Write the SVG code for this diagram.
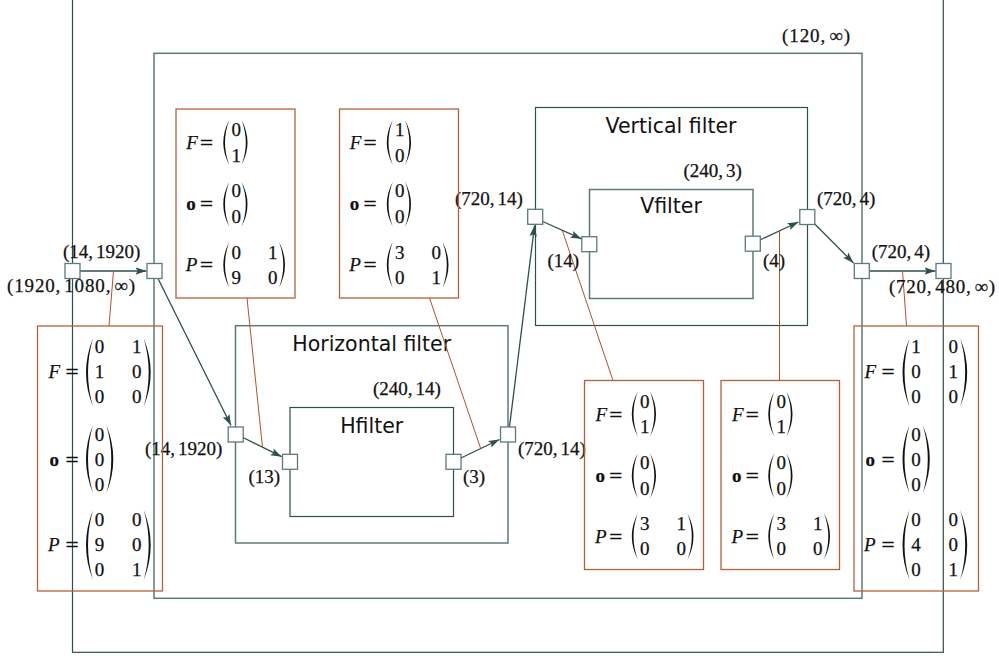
<svg xmlns="http://www.w3.org/2000/svg" width="999" height="656" viewBox="0 0 999 656">
<style>
.bx{fill:none;stroke:#2f4f4f;stroke-width:1.2}
.bl{fill:none;stroke:#5d7a7a;stroke-width:1.5}
.ob{fill:none;stroke:#b5603a;stroke-width:1.3}
.port{fill:#fff;stroke:#5d7a7a;stroke-width:1.3}
.cn{fill:none;stroke:#2f4f4f;stroke-width:1.3}
.an{fill:none;stroke:#b0532a;stroke-width:1}
.m{font-family:"Liberation Serif","DejaVu Serif",serif;font-size:19px;fill:#111;stroke:#111;stroke-width:0.25}
.eq{font-family:"DejaVu Serif","Liberation Serif",serif;font-size:18px;fill:#111}
.i{font-style:italic}
.b{font-weight:bold}
.d{text-anchor:middle}
.lb{font-family:"Liberation Serif","DejaVu Serif",serif;font-size:19px;fill:#111;stroke:#111;stroke-width:0.25}
.tt{font-family:"DejaVu Sans","Liberation Sans",sans-serif;font-size:20.5px;fill:#111;text-anchor:middle}
.p{fill:#111}
</style>
<defs>
<marker id="ah" markerWidth="12" markerHeight="9" refX="11" refY="4.5" orient="auto" markerUnits="userSpaceOnUse">
<path d="M0,0.8 L11,4.5 L0,8.2 L2.2,4.5 Z" fill="#2f4f4f"/>
</marker>
</defs>

<g id="outer">
<rect class="bx" x="72.5" y="-20" width="870.8" height="672.3"/>
</g>
<g id="graph">
<rect class="bl" x="154" y="53.3" width="708" height="545"/>
<text class="lb" x="782" y="41.6" textLength="68" lengthAdjust="spacing">(120,<tspan dx="3">∞)</tspan></text>
</g>
<g id="hfilter-block">
<rect class="bl" x="235.5" y="325.7" width="272.5" height="217.3"/>
<text class="tt" x="371.7" y="350.7">Horizontal filter</text>
<text class="lb" x="373" y="395">(240,<tspan dx="3">14)</tspan></text>
</g>
<g id="hfilter">
<rect class="bx" x="290" y="407.5" width="163.5" height="109"/>
<text class="tt" x="371.7" y="432.7">Hfilter</text>
</g>
<g id="vfilter-block">
<rect class="bx" x="535.5" y="107.5" width="272" height="218"/>
<text class="tt" x="671" y="133">Vertical filter</text>
<text class="lb" x="683.5" y="176.6">(240,<tspan dx="3">3)</tspan></text>
</g>
<g id="vfilter">
<rect class="bl" x="589.5" y="189.5" width="163.5" height="109"/>
<text class="tt" x="671" y="213.3">Vfilter</text>
</g>

<g id="connectors">
<line class="cn" x1="80" y1="271" x2="146.5" y2="271" marker-end="url(#ah)"/>
<line class="cn" x1="158" y1="278.5" x2="231" y2="425.5" marker-end="url(#ah)"/>
<line class="cn" x1="243" y1="437.5" x2="281.7" y2="456.7" marker-end="url(#ah)"/>
<line class="cn" x1="461" y1="458" x2="499.5" y2="439.5" marker-end="url(#ah)"/>
<line class="cn" x1="509.5" y1="427" x2="534.5" y2="225.5" marker-end="url(#ah)"/>
<line class="cn" x1="542.7" y1="221.5" x2="581.5" y2="238.8" marker-end="url(#ah)"/>
<line class="cn" x1="760" y1="240" x2="798.5" y2="222" marker-end="url(#ah)"/>
<line class="cn" x1="815" y1="224.3" x2="853.5" y2="263" marker-end="url(#ah)"/>
<line class="cn" x1="869" y1="271" x2="935.5" y2="271" marker-end="url(#ah)"/>
<line class="an" x1="113.5" y1="271" x2="109" y2="326"/>
<line class="an" x1="247" y1="298" x2="262.5" y2="447.5"/>
<line class="an" x1="429.5" y1="298" x2="480.5" y2="448"/>
<line class="an" x1="562.5" y1="231" x2="613" y2="380.5"/>
<line class="an" x1="779.5" y1="231" x2="779.5" y2="380.5"/>
<line class="an" x1="902.5" y1="271" x2="906.5" y2="326"/>
</g>

<g id="ports">
<rect class="port" x="65" y="263.5" width="15" height="15"/>
<rect class="port" x="147" y="263.5" width="15" height="15"/>
<rect class="port" x="228.2" y="427" width="15" height="15"/>
<rect class="port" x="282.5" y="454.3" width="15" height="15"/>
<rect class="port" x="446" y="454.3" width="15" height="15"/>
<rect class="port" x="500.5" y="427" width="15" height="15"/>
<rect class="port" x="527.7" y="209.3" width="15" height="15"/>
<rect class="port" x="581.8" y="236.7" width="15" height="15"/>
<rect class="port" x="745.3" y="236.2" width="15" height="15"/>
<rect class="port" x="799.8" y="209.5" width="15" height="15"/>
<rect class="port" x="854.3" y="263.5" width="15" height="15"/>
<rect class="port" x="936" y="263.5" width="15" height="15"/>
</g>

<g id="port-labels">
<text class="lb" x="63" y="258.3">(14,<tspan dx="3">1920)</tspan></text>
<text class="lb" x="7" y="291.6" textLength="128" lengthAdjust="spacing">(1920,<tspan dx="3">1080,</tspan><tspan dx="3">∞)</tspan></text>
<text class="lb" x="145" y="455">(14,<tspan dx="3">1920)</tspan></text>
<text class="lb" x="248.5" y="483.3">(13)</text>
<text class="lb" x="463" y="483.3">(3)</text>
<text class="lb" x="518" y="455">(720,<tspan dx="3">14)</tspan></text>
<text class="lb" x="455" y="205">(720,<tspan dx="3">14)</tspan></text>
<text class="lb" x="547.5" y="266.6">(14)</text>
<text class="lb" x="763" y="266.6">(4)</text>
<text class="lb" x="817" y="204.6">(720,<tspan dx="3">4)</tspan></text>
<text class="lb" x="871.7" y="258.3">(720,<tspan dx="3">4)</tspan></text>
<text class="lb" x="889" y="293.3" textLength="106" lengthAdjust="spacing">(720,<tspan dx="3">480,</tspan><tspan dx="3">∞)</tspan></text>
</g>

<!-- 2-row matrix boxes -->
<g id="ann-a" transform="translate(176,109)">
<rect class="ob" x="0" y="0" width="119" height="189"/>
<text class="m i" x="10.2" y="40">F</text><text class="eq" x="23" y="40">=</text>
<path class="p" d="M53.3,11 Q41.3,33.5 53.3,56 Q44.7,33.5 53.3,11 Z"/>
<text class="m d" x="60.2" y="27">0</text><text class="m d" x="60.2" y="52.7">1</text>
<path class="p" d="M65.5,11 Q77.5,33.5 65.5,56 Q74.1,33.5 65.5,11 Z"/>
<text class="m b" x="10.2" y="101">o</text><text class="eq" x="23" y="101">=</text>
<path class="p" d="M53.3,72.7 Q41.3,95.2 53.3,117.7 Q44.7,95.2 53.3,72.7 Z"/>
<text class="m d" x="60.2" y="88">0</text><text class="m d" x="60.2" y="114">0</text>
<path class="p" d="M65.5,72.7 Q77.5,95.2 65.5,117.7 Q74.1,95.2 65.5,72.7 Z"/>
<text class="m i" x="9.7" y="162">P</text><text class="eq" x="23" y="162">=</text>
<path class="p" d="M53.3,132.7 Q41.3,155.9 53.3,179 Q44.7,155.9 53.3,132.7 Z"/>
<text class="m d" x="60.2" y="149.5">0</text><text class="m d" x="96.8" y="149.5">1</text>
<text class="m d" x="60.2" y="174.5">9</text><text class="m d" x="96.8" y="174.5">0</text>
<path class="p" d="M103,132.7 Q115,155.9 103,179 Q111.6,155.9 103,132.7 Z"/>
</g>

<g id="ann-b" transform="translate(339.5,109)">
<rect class="ob" x="0" y="0" width="119" height="189"/>
<text class="m i" x="10.2" y="40">F</text><text class="eq" x="23" y="40">=</text>
<path class="p" d="M53.3,11 Q41.3,33.5 53.3,56 Q44.7,33.5 53.3,11 Z"/>
<text class="m d" x="60.2" y="27">1</text><text class="m d" x="60.2" y="52.7">0</text>
<path class="p" d="M65.5,11 Q77.5,33.5 65.5,56 Q74.1,33.5 65.5,11 Z"/>
<text class="m b" x="10.2" y="101">o</text><text class="eq" x="23" y="101">=</text>
<path class="p" d="M53.3,72.7 Q41.3,95.2 53.3,117.7 Q44.7,95.2 53.3,72.7 Z"/>
<text class="m d" x="60.2" y="88">0</text><text class="m d" x="60.2" y="114">0</text>
<path class="p" d="M65.5,72.7 Q77.5,95.2 65.5,117.7 Q74.1,95.2 65.5,72.7 Z"/>
<text class="m i" x="9.7" y="162">P</text><text class="eq" x="23" y="162">=</text>
<path class="p" d="M53.3,132.7 Q41.3,155.9 53.3,179 Q44.7,155.9 53.3,132.7 Z"/>
<text class="m d" x="60.2" y="149.5">3</text><text class="m d" x="96.8" y="149.5">0</text>
<text class="m d" x="60.2" y="174.5">0</text><text class="m d" x="96.8" y="174.5">1</text>
<path class="p" d="M103,132.7 Q115,155.9 103,179 Q111.6,155.9 103,132.7 Z"/>
</g>

<g id="ann-c" transform="translate(584.5,380.5)">
<rect class="ob" x="0" y="0" width="119" height="189"/>
<text class="m i" x="11" y="40">F</text><text class="eq" x="23.8" y="40">=</text>
<path class="p" d="M53.3,11 Q41.3,33.5 53.3,56 Q44.7,33.5 53.3,11 Z"/>
<text class="m d" x="60.2" y="27">0</text><text class="m d" x="60.2" y="52.7">1</text>
<path class="p" d="M65.5,11 Q77.5,33.5 65.5,56 Q74.1,33.5 65.5,11 Z"/>
<text class="m b" x="11" y="101">o</text><text class="eq" x="23.8" y="101">=</text>
<path class="p" d="M53.3,72.7 Q41.3,95.2 53.3,117.7 Q44.7,95.2 53.3,72.7 Z"/>
<text class="m d" x="60.2" y="88">0</text><text class="m d" x="60.2" y="114">0</text>
<path class="p" d="M65.5,72.7 Q77.5,95.2 65.5,117.7 Q74.1,95.2 65.5,72.7 Z"/>
<text class="m i" x="10.5" y="162">P</text><text class="eq" x="23.8" y="162">=</text>
<path class="p" d="M53.3,132.7 Q41.3,155.9 53.3,179 Q44.7,155.9 53.3,132.7 Z"/>
<text class="m d" x="60.2" y="149.5">3</text><text class="m d" x="96.8" y="149.5">1</text>
<text class="m d" x="60.2" y="174.5">0</text><text class="m d" x="96.8" y="174.5">0</text>
<path class="p" d="M103,132.7 Q115,155.9 103,179 Q111.6,155.9 103,132.7 Z"/>
</g>

<g id="ann-d" transform="translate(721,380.5)">
<rect class="ob" x="0" y="0" width="118.5" height="189"/>
<text class="m i" x="11" y="40">F</text><text class="eq" x="23.8" y="40">=</text>
<path class="p" d="M53.3,11 Q41.3,33.5 53.3,56 Q44.7,33.5 53.3,11 Z"/>
<text class="m d" x="60.2" y="27">0</text><text class="m d" x="60.2" y="52.7">1</text>
<path class="p" d="M65.5,11 Q77.5,33.5 65.5,56 Q74.1,33.5 65.5,11 Z"/>
<text class="m b" x="11" y="101">o</text><text class="eq" x="23.8" y="101">=</text>
<path class="p" d="M53.3,72.7 Q41.3,95.2 53.3,117.7 Q44.7,95.2 53.3,72.7 Z"/>
<text class="m d" x="60.2" y="88">0</text><text class="m d" x="60.2" y="114">0</text>
<path class="p" d="M65.5,72.7 Q77.5,95.2 65.5,117.7 Q74.1,95.2 65.5,72.7 Z"/>
<text class="m i" x="10.5" y="162">P</text><text class="eq" x="23.8" y="162">=</text>
<path class="p" d="M53.3,132.7 Q41.3,155.9 53.3,179 Q44.7,155.9 53.3,132.7 Z"/>
<text class="m d" x="60.2" y="149.5">3</text><text class="m d" x="96.8" y="149.5">1</text>
<text class="m d" x="60.2" y="174.5">0</text><text class="m d" x="96.8" y="174.5">0</text>
<path class="p" d="M103,132.7 Q115,155.9 103,179 Q111.6,155.9 103,132.7 Z"/>
</g>

<!-- 3-row matrix boxes -->
<g id="ann-left" transform="translate(37.5,326)">
<rect class="ob" x="0" y="0" width="125" height="265"/>
<text class="m i" x="11" y="52">F</text><text class="eq" x="27" y="52">=</text>
<path class="p" d="M55.5,12.3 Q41.5,46.5 55.5,80.7 Q45.5,46.5 55.5,12.3 Z"/>
<text class="m d" x="62" y="26.7">0</text><text class="m d" x="99.2" y="26.7">1</text>
<text class="m d" x="62" y="51.7">1</text><text class="m d" x="99.2" y="51.7">0</text>
<text class="m d" x="62" y="76.7">0</text><text class="m d" x="99.2" y="76.7">0</text>
<path class="p" d="M106.2,12.3 Q120.2,46.5 106.2,80.7 Q116.2,46.5 106.2,12.3 Z"/>
<text class="m b" x="12" y="140">o</text><text class="eq" x="27" y="140">=</text>
<path class="p" d="M55.5,99 Q41.5,133.2 55.5,167.3 Q45.5,133.2 55.5,99 Z"/>
<text class="m d" x="62" y="115">0</text><text class="m d" x="62" y="140">0</text><text class="m d" x="62" y="165">0</text>
<path class="p" d="M68.8,99 Q82.8,133.2 68.8,167.3 Q78.8,133.2 68.8,99 Z"/>
<text class="m i" x="10.5" y="225">P</text><text class="eq" x="27" y="225">=</text>
<path class="p" d="M55.5,184 Q41.5,219 55.5,254 Q45.5,219 55.5,184 Z"/>
<text class="m d" x="62" y="200">0</text><text class="m d" x="99.2" y="200">0</text>
<text class="m d" x="62" y="225">9</text><text class="m d" x="99.2" y="225">0</text>
<text class="m d" x="62" y="250">0</text><text class="m d" x="99.2" y="250">1</text>
<path class="p" d="M106.2,184 Q120.2,219 106.2,254 Q116.2,219 106.2,184 Z"/>
</g>

<g id="ann-right" transform="translate(854,326)">
<rect class="ob" x="0" y="0" width="124.5" height="265"/>
<text class="m i" x="10.5" y="52">F</text><text class="eq" x="26.5" y="52">=</text>
<path class="p" d="M55.5,12.3 Q41.5,46.5 55.5,80.7 Q45.5,46.5 55.5,12.3 Z"/>
<text class="m d" x="62" y="26.7">1</text><text class="m d" x="99.2" y="26.7">0</text>
<text class="m d" x="62" y="51.7">0</text><text class="m d" x="99.2" y="51.7">1</text>
<text class="m d" x="62" y="76.7">0</text><text class="m d" x="99.2" y="76.7">0</text>
<path class="p" d="M106.2,12.3 Q120.2,46.5 106.2,80.7 Q116.2,46.5 106.2,12.3 Z"/>
<text class="m b" x="11.5" y="140">o</text><text class="eq" x="26.5" y="140">=</text>
<path class="p" d="M55.5,99 Q41.5,133.2 55.5,167.3 Q45.5,133.2 55.5,99 Z"/>
<text class="m d" x="62" y="115">0</text><text class="m d" x="62" y="140">0</text><text class="m d" x="62" y="165">0</text>
<path class="p" d="M68.8,99 Q82.8,133.2 68.8,167.3 Q78.8,133.2 68.8,99 Z"/>
<text class="m i" x="10" y="225">P</text><text class="eq" x="26.5" y="225">=</text>
<path class="p" d="M55.5,184 Q41.5,219 55.5,254 Q45.5,219 55.5,184 Z"/>
<text class="m d" x="62" y="200">0</text><text class="m d" x="99.2" y="200">0</text>
<text class="m d" x="62" y="225">4</text><text class="m d" x="99.2" y="225">0</text>
<text class="m d" x="62" y="250">0</text><text class="m d" x="99.2" y="250">1</text>
<path class="p" d="M106.2,184 Q120.2,219 106.2,254 Q116.2,219 106.2,184 Z"/>
</g>
</svg>
